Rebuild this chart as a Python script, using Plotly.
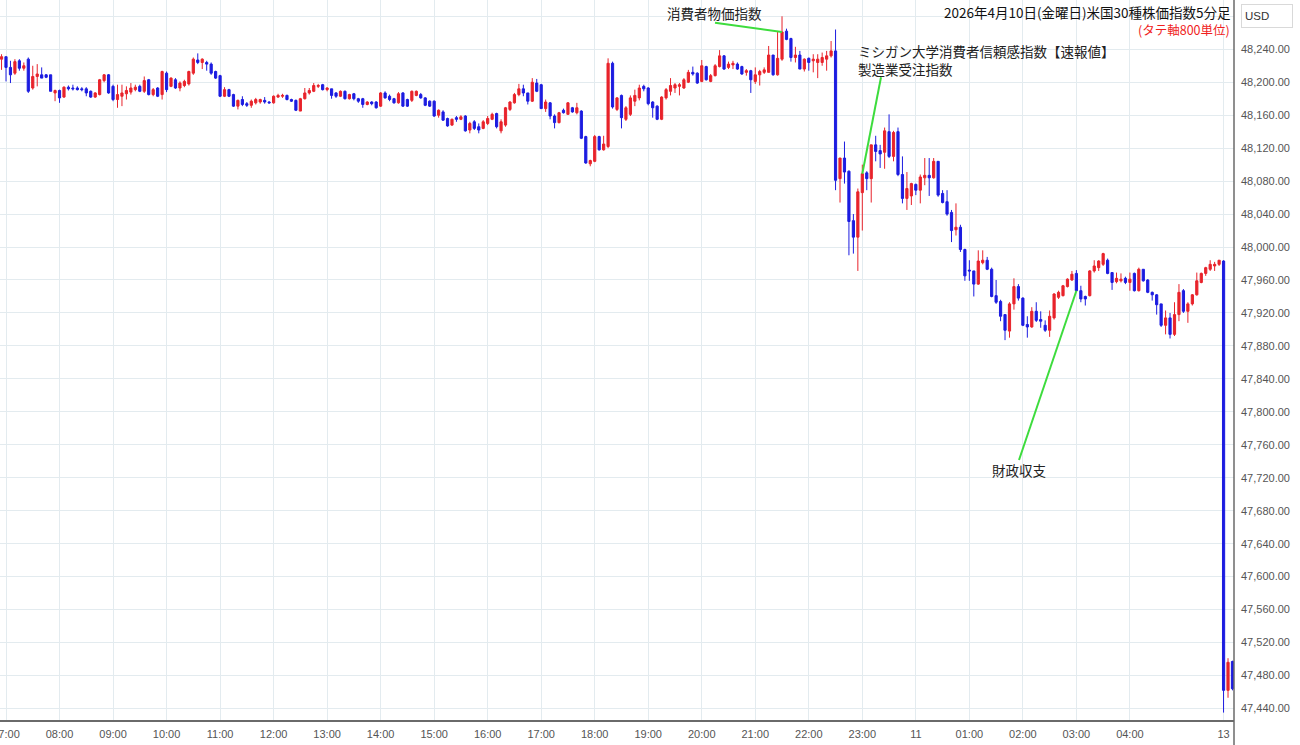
import plotly.graph_objects as go
import pandas as pd

# ---- bar timestamps (categories) ----
bar_times = (["2026-04-10 05:55"]
             + [t.strftime("%Y-%m-%d %H:%M") for t in
                pd.date_range("2026-04-10 07:00", "2026-04-11 05:40", freq="5min")]
             + ["2026-04-13 07:00", "2026-04-13 07:05", "2026-04-13 07:10"])

# ---- OHLC values (USD) ----
open_ = [48228,48231,48218,48211,48226,48217,48228,48193,48207,48209,48209,48209,48187,
 48190,48182,48194,48193,48193,48192,48192,48189,48182,48185,48202,48209,
 48195,48179,48183,48186,48188,48191,48195,48189,48203,48185,48193,48185,
 48211,48195,48203,48193,48196,48198,48211,48227,48224,48224,48222,48213,
 48208,48183,48191,48185,48171,48179,48174,48172,48175,48176,48178,48176,
 48175,48182,48183,48184,48179,48178,48165,48180,48187,48189,48195,48197,
 48191,48192,48187,48183,48189,48180,48186,48180,48180,48173,48176,48176,
 48171,48187,48183,48180,48175,48187,48179,48178,48184,48185,48181,48177,
 48177,48160,48164,48156,48148,48157,48155,48159,48142,48152,48146,48144,
 48150,48155,48162,48141,48148,48167,48175,48185,48192,48187,48177,48199,
 48197,48168,48175,48159,48151,48166,48161,48169,48163,48165,48134,48101,
 48104,48134,48118,48122,48223,48167,48184,48155,48161,48177,48181,48195,
 48193,48176,48171,48155,48181,48189,48193,48195,48193,48200,48212,48211,
 48201,48219,48201,48208,48219,48232,48218,48221,48222,48219,48212,48214,
 48201,48209,48212,48212,48233,48209,48228,48262,48253,48230,48233,48216,
 48229,48226,48224,48224,48228,48232,48238,48083,48108,48092,48032,48012,
 48066,48090,48083,48124,48117,48115,48140,48110,48140,48088,48059,48062,
 48076,48069,48084,48087,48084,48104,48065,48055,48042,48021,48024,47997,
 47972,47971,47955,47981,47984,47973,47941,47934,47918,47898,47931,47952,
 47938,47906,47903,47922,47912,47905,47899,47914,47939,47941,47952,47960,
 47968,47947,47940,47941,47971,47975,47979,47984,47969,47958,47959,47962,
 47957,47968,47947,47973,47960,47945,47942,47931,47905,47914,47894,47918,
 47947,47922,47931,47942,47957,47968,47973,47977,47979,47983,47462,47497]

high = [48234,48231,48226,48228,48228,48224,48230,48220,48222,48218,48210,48209,48191,
 48191,48195,48196,48197,48195,48194,48194,48190,48188,48204,48210,48210,
 48197,48197,48197,48195,48199,48197,48197,48207,48204,48193,48194,48214,
 48213,48206,48205,48201,48203,48214,48230,48235,48229,48226,48224,48214,
 48209,48194,48192,48186,48179,48183,48176,48179,48181,48180,48182,48177,
 48184,48186,48186,48185,48180,48179,48181,48193,48193,48199,48198,48198,
 48194,48192,48188,48190,48190,48186,48187,48181,48181,48177,48177,48177,
 48188,48189,48185,48181,48188,48188,48180,48190,48190,48187,48182,48178,
 48178,48167,48166,48157,48156,48159,48160,48160,48152,48154,48150,48154,
 48159,48163,48163,48155,48170,48177,48187,48198,48197,48187,48205,48204,
 48198,48179,48176,48161,48164,48168,48176,48170,48175,48166,48135,48106,
 48136,48135,48135,48229,48225,48182,48185,48171,48184,48191,48197,48197,
 48194,48177,48172,48183,48193,48205,48199,48199,48205,48215,48219,48212,
 48227,48220,48210,48222,48239,48233,48225,48226,48224,48220,48216,48215,
 48218,48215,48218,48244,48233,48261,48280,48265,48254,48243,48238,48229,
 48230,48234,48234,48236,48238,48250,48264,48108,48128,48093,48040,48071,
 48100,48092,48124,48135,48124,48145,48161,48141,48145,48110,48091,48078,
 48077,48088,48108,48108,48108,48104,48069,48069,48045,48053,48027,47998,
 47984,47971,47996,47996,47988,47975,47960,47936,47918,47933,47962,47955,
 47939,47916,47927,47933,47922,47911,47923,47944,47947,47954,47962,47971,
 47972,47953,47941,47972,47984,47984,47993,47986,47969,47969,47968,47964,
 47969,47969,47975,47973,47961,47946,47943,47931,47923,47920,47933,47955,
 47949,47933,47943,47969,47969,47976,47984,47982,47984,47984,47501,47498]

low = [48215,48201,48199,48209,48214,48214,48187,48191,48195,48205,48205,48189,48177,
 48175,48181,48190,48190,48190,48189,48183,48181,48181,48184,48200,48186,
 48177,48169,48171,48179,48185,48189,48188,48187,48184,48183,48182,48179,
 48188,48194,48192,48189,48194,48196,48209,48222,48216,48214,48209,48204,
 48182,48182,48182,48170,48167,48171,48170,48169,48173,48174,48174,48174,
 48174,48181,48181,48178,48176,48165,48165,48179,48185,48188,48193,48190,
 48189,48180,48181,48182,48179,48179,48178,48175,48169,48172,48172,48168,
 48170,48180,48177,48174,48174,48170,48170,48176,48183,48180,48171,48170,
 48158,48157,48153,48146,48147,48152,48154,48140,48138,48142,48138,48143,
 48148,48154,48144,48138,48146,48165,48174,48183,48183,48173,48176,48188,
 48168,48164,48155,48144,48150,48162,48161,48163,48161,48131,48101,48098,
 48103,48117,48117,48120,48168,48165,48144,48153,48159,48171,48178,48189,
 48172,48157,48154,48154,48179,48184,48187,48184,48192,48199,48208,48198,
 48200,48202,48200,48207,48218,48215,48216,48216,48215,48209,48208,48187,
 48198,48196,48210,48212,48208,48208,48226,48251,48225,48224,48216,48213,
 48214,48212,48205,48220,48214,48230,48069,48054,48077,47990,47992,47971,
 48020,48069,48054,48104,48096,48095,48108,48104,48086,48053,48045,48051,
 48063,48053,48075,48062,48083,48061,48053,48038,48006,48014,47994,47959,
 47959,47940,47954,47979,47972,47939,47931,47910,47887,47890,47924,47935,
 47904,47890,47902,47909,47902,47897,47891,47912,47937,47940,47951,47959,
 47946,47933,47929,47940,47969,47971,47977,47967,47948,47956,47957,47955,
 47947,47946,47946,47958,47944,47935,47918,47903,47894,47889,47892,47910,
 47920,47908,47929,47941,47956,47965,47971,47971,47977,47435,47453,47462]

close = [48231,48218,48209,48225,48217,48220,48189,48207,48210,48205,48206,48189,48190,
 48181,48194,48192,48192,48191,48191,48187,48182,48187,48203,48209,48187,
 48179,48185,48187,48190,48193,48194,48189,48202,48185,48191,48183,48213,
 48191,48205,48193,48199,48201,48213,48228,48224,48228,48222,48211,48205,
 48183,48191,48183,48171,48178,48173,48172,48177,48179,48179,48176,48175,
 48183,48184,48184,48179,48177,48166,48180,48187,48190,48196,48196,48191,
 48193,48184,48183,48189,48180,48185,48180,48177,48173,48176,48174,48169,
 48187,48181,48179,48175,48186,48171,48171,48189,48189,48181,48172,48171,
 48159,48166,48154,48147,48155,48155,48158,48141,48150,48144,48142,48152,
 48156,48161,48146,48152,48169,48176,48185,48192,48187,48177,48200,48189,
 48168,48176,48159,48151,48163,48163,48175,48164,48169,48132,48102,48105,
 48134,48118,48125,48223,48170,48181,48157,48169,48181,48184,48193,48192,
 48174,48169,48155,48182,48191,48196,48197,48197,48203,48212,48210,48199,
 48220,48203,48208,48220,48232,48216,48222,48223,48216,48210,48214,48203,
 48209,48213,48215,48233,48209,48229,48261,48252,48230,48233,48216,48228,
 48224,48228,48228,48230,48232,48238,48081,48108,48091,48031,48012,48067,
 48089,48083,48124,48116,48113,48141,48110,48139,48088,48059,48071,48077,
 48069,48085,48087,48084,48104,48063,48054,48040,48020,48024,47997,47965,
 47971,47955,47983,47984,47973,47940,47933,47916,47899,47931,47952,47938,
 47905,47903,47922,47911,47910,47899,47916,47943,47945,47953,47961,47967,
 47947,47937,47937,47971,47977,47983,47992,47968,47957,47962,47961,47957,
 47961,47947,47973,47959,47945,47942,47930,47905,47914,47894,47918,47945,
 47922,47931,47942,47959,47968,47975,47979,47979,47984,47462,47496,47464]

# ---- axis ticks ----
x_tick_vals = ["2026-04-10 07:00", "2026-04-10 08:00", "2026-04-10 09:00", "2026-04-10 10:00",
               "2026-04-10 11:00", "2026-04-10 12:00", "2026-04-10 13:00", "2026-04-10 14:00",
               "2026-04-10 15:00", "2026-04-10 16:00", "2026-04-10 17:00", "2026-04-10 18:00",
               "2026-04-10 19:00", "2026-04-10 20:00", "2026-04-10 21:00", "2026-04-10 22:00",
               "2026-04-10 23:00", "2026-04-11 00:00", "2026-04-11 01:00", "2026-04-11 02:00",
               "2026-04-11 03:00", "2026-04-11 04:00", "2026-04-13 07:00"]
x_tick_text = ["07:00", "08:00", "09:00", "10:00", "11:00", "12:00", "13:00", "14:00",
               "15:00", "16:00", "17:00", "18:00", "19:00", "20:00", "21:00", "22:00",
               "23:00", "11", "01:00", "02:00", "03:00", "04:00", "13"]
y_tick_vals = list(range(47440, 48281, 40))
y_tick_text = [f"{v:,.2f}" if v <= 48240 else "" for v in y_tick_vals]

# ---- event annotations: (label, bar time) ----
events = [("消費者物価指数", "2026-04-10 21:30"),
          ("ミシガン大学消費者信頼感指数【速報値】<br>製造業受注指数", "2026-04-10 23:00"),
          ("財政収支", "2026-04-11 03:00")]

UP = "#e8232b"
DOWN = "#1c1ce0"
GRID = "#e3ebef"

PLOT_W, PLOT_H = 1234, 720
X_RANGE = [-0.345, 276.34]
Y_RANGE = [47426.0, 48299.8]

def px_x(px):
    return X_RANGE[0] + px / PLOT_W * (X_RANGE[1] - X_RANGE[0])

def px_y(py):
    return Y_RANGE[1] - py / PLOT_H * (Y_RANGE[1] - Y_RANGE[0])

fig = go.Figure(go.Candlestick(
    x=bar_times, open=open_, high=high, low=low, close=close,
    increasing=dict(line=dict(color=UP, width=1), fillcolor=UP),
    decreasing=dict(line=dict(color=DOWN, width=1), fillcolor=DOWN),
    whiskerwidth=0, hoverinfo="skip", showlegend=False,
))

# label layout (pixel positions of text / leader-line tails)
label_pos = [(665, 13, 715, 22.7), (856, 59.5, 881, 77.3), (990, 470, 1019, 460)]
for (txt, t), (lx, ly, tx, ty) in zip(events, label_pos):
    k = bar_times.index(t)
    fig.add_shape(type="line", xref="x", yref="y",
                  x0=px_x(tx), y0=px_y(ty), x1=k, y1=close[k],
                  line=dict(color="#3ddc3d", width=2))
    fig.add_annotation(xref="paper", yref="paper", x=lx / PLOT_W, y=1 - ly / PLOT_H,
                       xanchor="left", yanchor="middle", text=txt, showarrow=False,
                       align="left",
                       font=dict(family="Noto Sans CJK JP", size=13.5, color="#222"))

# title texts
fig.add_annotation(xref="paper", yref="paper", x=1232 / PLOT_W, y=1 - 12 / PLOT_H,
                   xanchor="right", yanchor="middle", showarrow=False, borderpad=0,
                   text="2026年4月10日(金曜日)米国30種株価指数5分足",
                   font=dict(family="Noto Sans CJK JP", size=13.5, color="#111"))
fig.add_annotation(xref="paper", yref="paper", x=1231 / PLOT_W, y=1 - 29.5 / PLOT_H,
                   xanchor="right", yanchor="middle", showarrow=False, borderpad=0,
                   text="(タテ軸800単位)",
                   font=dict(family="Noto Sans CJK JP", size=12.5, color="#f01e1e"))
# currency box
fig.add_annotation(xref="paper", yref="paper", x=1241 / PLOT_W, y=1 - 16 / PLOT_H,
                   xanchor="left", yanchor="middle", showarrow=False,
                   text="USD", width=44, height=16, align="left",
                   bordercolor="#d9d9d9", borderwidth=1, borderpad=3, bgcolor="white",
                   font=dict(family="Liberation Sans", size=11.5, color="#333"))

# y-axis line extending to the bottom edge
fig.add_shape(type="line", xref="paper", yref="paper", x0=1, x1=1, y0=-0.05, y1=1,
              line=dict(color="#6a6a6a", width=1.5))

fig.update_layout(
    width=1300, height=745,
    margin=dict(l=0, r=66, t=0, b=25, autoexpand=False),
    paper_bgcolor="white", plot_bgcolor="white",
    hovermode=False,
    xaxis=dict(type="category", range=X_RANGE, rangeslider=dict(visible=False),
               tickmode="array", tickvals=x_tick_vals, ticktext=x_tick_text,
               showgrid=True, gridcolor=GRID, gridwidth=1,
               showline=True, linecolor="#6a6a6a", linewidth=1.5,
               ticks="", ticklabelstandoff=3, ticklabeloverflow="allow",
               tickfont=dict(family="Liberation Sans", size=11, color="#555"),
               zeroline=False, fixedrange=True, automargin=False),
    yaxis=dict(side="right", range=Y_RANGE, tickmode="array",
               tickvals=y_tick_vals, ticktext=y_tick_text,
               showgrid=True, gridcolor=GRID, gridwidth=1,
               showline=False, ticks="", ticklabelstandoff=6,
               tickfont=dict(family="Liberation Sans", size=11, color="#555"),
               zeroline=False, fixedrange=True, automargin=False),
)

fig.write_html("out.html", config={"displayModeBar": False, "staticPlot": True})

# remove the default page margin so the figure sits at the window's corner
with open("out.html", encoding="utf-8") as f:
    html = f.read()
html = html.replace("<head>", "<head><style>html,body{margin:0;padding:0;}</style>", 1)
with open("out.html", "w", encoding="utf-8") as f:
    f.write(html)
